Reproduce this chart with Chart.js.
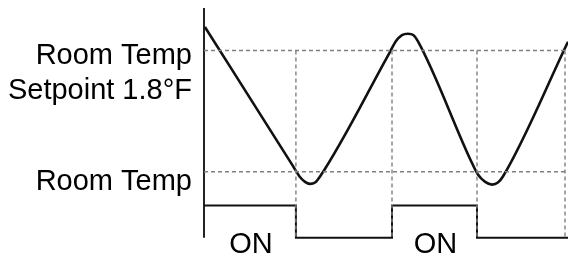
<!DOCTYPE html>
<html>
<head>
<meta charset="utf-8">
<script src="https://cdn.jsdelivr.net/npm/chart.js@4/dist/chart.umd.min.js"></script>
<style>
  html, body { margin: 0; padding: 0; background: #fff; }
  #c { display: block; }
</style>
</head>
<body>
<canvas id="c" width="568" height="256"></canvas>
<script>
// time in minutes, temperature as offset from room temp in °F
const tempTimes  = [0.1, 9.8, 10.5, 11.1, 11.65, 12.2, 12.75, 20.4, 21.1, 21.75, 22.4, 23.0, 23.5, 29.45, 30.1, 30.9, 31.65, 32.3, 32.85, 40];
const tempValues = [2.15, 0.08, -0.07, -0.15, -0.18, -0.16, -0.07, 1.77, 1.94, 2.03, 2.05, 2.03, 1.94, 0.13, -0.04, -0.15, -0.19, -0.16, -0.07, 1.93];

const switchTimes = [0, 10.1, 20.66, 30.0, 39.67];
const switchState = ["ON", "OFF", "ON", "OFF"];
const stateLevel = { ON: -0.5, OFF: -0.98 };

const setpoint = 1.8;
const roomTemp = 0;
const refLevels = [setpoint, roomTemp];
const refLabels = [["Room Temp", "Setpoint 1.8°F"], ["Room Temp"]];

const tMin = 0, tMax = 40;
const axisTop = 2.43;

// relay signal as a square wave
const relay = [];
for (let i = 0; i < switchState.length; i++) {
    const lv = stateLevel[switchState[i]];
    relay.push({x: switchTimes[i], y: lv});
    relay.push({x: i + 1 < switchState.length ? switchTimes[i + 1] : tMax, y: lv});
}

const dashStyle = {borderColor: "#808080", borderWidth: 1.4, borderDash: [4, 3], pointRadius: 0, clip: false};

const datasets = [];
refLevels.forEach(function (v) {
    datasets.push(Object.assign({data: [{x: tMin, y: v}, {x: tMax, y: v}]}, dashStyle));
});
switchTimes.slice(1).forEach(function (t) {
    datasets.push(Object.assign({data: [{x: t, y: setpoint}, {x: t, y: stateLevel.OFF}]}, dashStyle));
});
datasets.push({
    data: tempTimes.map((t, i) => ({x: t, y: tempValues[i]})),
    borderColor: "#111", borderWidth: 2.6, pointRadius: 0, cubicInterpolationMode: "monotone", clip: false
});
datasets.push({data: relay, borderColor: "#111", borderWidth: 2, pointRadius: 0, clip: false});
datasets.push({
    data: [{x: tMin, y: axisTop}, {x: tMin, y: stateLevel.OFF}],
    borderColor: "#222", borderWidth: 2, pointRadius: 0, clip: false
});

const textPlugin = {
    id: "texts",
    afterDraw: function (chart) {
        const ctx = chart.ctx, xs = chart.scales.x, ys = chart.scales.y;
        ctx.save();
        ctx.fillStyle = "#000";
        ctx.font = "29px 'Liberation Sans', Arial, sans-serif";
        ctx.textBaseline = "alphabetic";
        ctx.textAlign = "right";
        const firstOffset = [13, 18];
        refLevels.forEach(function (v, k) {
            const py = ys.getPixelForValue(v);
            refLabels[k].forEach(function (line, j) {
                ctx.fillText(line, chart.chartArea.left - 12, py + firstOffset[k] + j * 35);
            });
        });
        ctx.textAlign = "center";
        for (let i = 0; i < switchState.length; i++) {
            if (switchState[i] !== "ON") continue;
            const mid = (switchTimes[i] + switchTimes[i + 1]) / 2;
            ctx.fillText("ON", xs.getPixelForValue(mid) + 1, ys.getPixelForValue(stateLevel.OFF) + 15);
        }
        ctx.restore();
    }
};

new Chart(document.getElementById("c").getContext("2d"), {
    type: "line",
    data: {datasets: datasets},
    options: {
        responsive: false,
        animation: false,
        devicePixelRatio: 1,
        layout: {padding: {left: 204, right: 0, top: 0, bottom: 0}},
        plugins: {legend: {display: false}, tooltip: {enabled: false}},
        scales: {
            x: {type: "linear", min: tMin, max: tMax, display: false},
            y: {type: "linear", min: -1.25, max: 2.55, display: false}
        }
    },
    plugins: [textPlugin]
});
</script>
</body>
</html>
